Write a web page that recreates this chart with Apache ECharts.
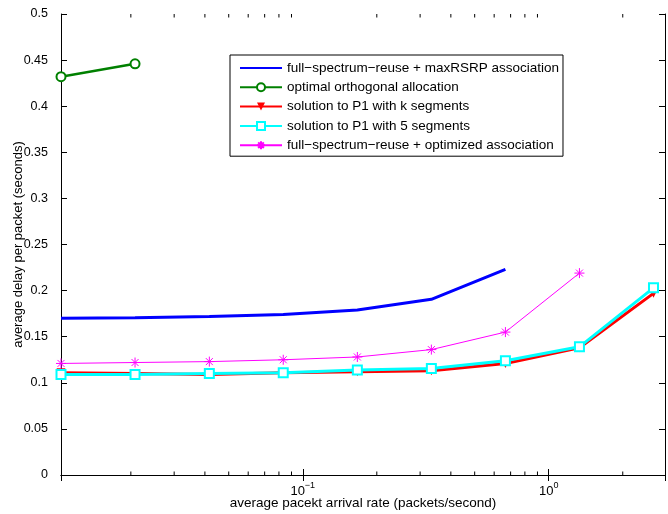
<!DOCTYPE html>
<html>
<head>
<meta charset="utf-8">
<script src="https://cdn.jsdelivr.net/npm/echarts@6/dist/echarts.min.js"></script>
<style>
html,body{margin:0;padding:0;background:#fff;}
#chart{width:668px;height:514px;}
</style>
</head>
<body>
<div id="chart"></div>
<script>
// arrival rates (packets/second), doubling each step
var rates = [0.0104, 0.0208, 0.0417, 0.0833, 0.1667, 0.3333, 0.6667, 1.3333, 2.6667];

var maxRsrp   = [0.170, 0.1705, 0.172, 0.174, 0.179, 0.1905, 0.223];
var orthogonal = [0.432, 0.446];
var kSegments = [0.111, 0.110, 0.109, 0.111, 0.112, 0.113, 0.121, 0.138, 0.197];
var fiveSegments = [0.109, 0.109, 0.110, 0.111, 0.114, 0.1155, 0.124, 0.139, 0.203];
var optimizedAssoc = [0.121, 0.122, 0.123, 0.125, 0.128, 0.136, 0.155, 0.219];

var seriesNames = [
    'full\u2212spectrum\u2212reuse + maxRSRP association',
    'optimal orthogonal allocation',
    'solution to P1 with k segments',
    'solution to P1 with 5 segments',
    'full\u2212spectrum\u2212reuse + optimized association'
];

// minor ticks for the log axis (2..9 per decade)
var minorTicks = [0.02, 0.03, 0.04, 0.05, 0.06, 0.07, 0.08, 0.09,
                  0.2, 0.3, 0.4, 0.5, 0.6, 0.7, 0.8, 0.9, 2];

var xMin = 0.0104, xMax = 2.97;

function pairs(ys){
    return ys.map(function(y, i){ return [rates[i], y]; });
}

var fontFam = '"Liberation Sans", Arial, Helvetica, sans-serif';
var asterisk = 'path://M5,0L5,10M0,5L10,5M1.5,1.5L8.5,8.5M1.5,8.5L8.5,1.5';

var legendData = seriesNames.map(function(n, i){
    // the blue line has no marker, hide the legend symbol
    return i === 0 ? {name: n, itemStyle: {opacity: 0}} : {name: n};
});

var chart = echarts.init(document.getElementById('chart'));
var option = {
    animation: false,
    textStyle: {fontFamily: fontFam},
    grid: {left: 61, top: 14, right: 3, bottom: 39, containLabel: false, outerBoundsMode: 'none'},
    legend: {
        orient: 'vertical',
        left: 230,
        top: 55,
        padding: [6, 4, 4, 9],
        itemGap: 5.3,
        itemWidth: 42,
        itemHeight: 10,
        borderColor: '#000',
        borderWidth: 1,
        backgroundColor: '#fff',
        textStyle: {fontSize: 13.5, color: '#000', fontFamily: fontFam},
        data: legendData
    },
    xAxis: [{
        type: 'log',
        logBase: 10,
        min: xMin,
        max: xMax,
        name: 'average pacekt arrival rate (packets/second)',
        nameLocation: 'middle',
        nameGap: 21,
        nameMoveOverlap: false,
        nameTextStyle: {fontSize: 13.5, color: '#000'},
        axisLine: {lineStyle: {color: '#000', width: 1}},
        axisTick: {inside: true, length: 6, lineStyle: {color: '#000'}},
        splitLine: {show: false},
        axisLabel: {
            color: '#000',
            fontSize: 13,
            margin: 6,
            showMinLabel: false,
            showMaxLabel: false,
            formatter: function(v){
                var e = Math.log10(v);
                if (Math.abs(e - Math.round(e)) > 1e-6) return '';
                var r = Math.round(e);
                return '10{sup|' + (r < 0 ? '\u2212' + (-r) : r) + '}';
            },
            rich: {sup: {fontSize: 9, padding: [0, 0, 12, 0], color: '#000'}}
        }
    }, {
        type: 'log',
        logBase: 10,
        min: xMin,
        max: xMax,
        position: 'top',
        axisLine: {lineStyle: {color: '#000', width: 1}},
        axisTick: {inside: true, length: 6, lineStyle: {color: '#000'}},
        axisLabel: {show: false},
        splitLine: {show: false}
    }],
    yAxis: [{
        type: 'value',
        min: 0,
        max: 0.5,
        interval: 0.05,
        name: 'average delay per packet (seconds)',
        nameLocation: 'middle',
        nameGap: 36,
        nameMoveOverlap: false,
        nameTextStyle: {fontSize: 13, color: '#000'},
        axisLine: {show: true, lineStyle: {color: '#000', width: 1}},
        axisTick: {show: true, inside: true, length: 6, lineStyle: {color: '#000'}},
        splitLine: {show: false},
        axisLabel: {
            color: '#000', fontSize: 12.5, margin: 13,
            formatter: function(v){ return String(Math.round(v * 100) / 100); }
        }
    }, {
        type: 'value',
        min: 0,
        max: 0.5,
        interval: 0.05,
        position: 'right',
        axisLine: {show: true, lineStyle: {color: '#000', width: 1}},
        axisTick: {show: true, inside: true, length: 6, lineStyle: {color: '#000'}},
        axisLabel: {show: false},
        splitLine: {show: false}
    }],
    series: [
        {
            name: seriesNames[0],
            type: 'line',
            data: pairs(maxRsrp),
            symbol: 'none',
            lineStyle: {color: '#0000ff', width: 3},
            itemStyle: {color: 'rgba(0,0,255,0)', borderWidth: 0}
        },
        {
            name: seriesNames[1],
            type: 'line',
            data: pairs(orthogonal),
            symbol: 'emptyCircle',
            symbolSize: 9,
            lineStyle: {color: '#008000', width: 2.5},
            itemStyle: {color: '#008000', borderWidth: 2.5}
        },
        {
            name: seriesNames[2],
            type: 'line',
            data: pairs(kSegments),
            symbol: 'triangle',
            symbolRotate: 180,
            symbolSize: 9,
            lineStyle: {color: '#ff0000', width: 3},
            itemStyle: {color: '#ff0000'}
        },
        {
            name: seriesNames[3],
            type: 'line',
            data: pairs(fiveSegments),
            symbol: 'emptyRect',
            symbolSize: 9,
            lineStyle: {color: '#00ffff', width: 3},
            itemStyle: {color: '#00ffff', borderWidth: 2.5}
        },
        {
            name: seriesNames[4],
            type: 'line',
            data: pairs(optimizedAssoc),
            symbol: asterisk,
            symbolSize: 10,
            lineStyle: {color: '#ff00ff', width: 1},
            itemStyle: {color: '#ff00ff', borderColor: '#ff00ff', borderWidth: 1}
        },
        {
            type: 'custom',
            silent: true,
            clip: false,
            data: minorTicks.map(function(v){ return [v]; }),
            encode: {x: 0},
            renderItem: function(params, api){
                var x = api.value(0);
                var b = api.coord([x, 0]);
                var t = api.coord([x, 0.5]);
                var st = {stroke: '#000', lineWidth: 1};
                return {
                    type: 'group',
                    children: [
                        {type: 'line', shape: {x1: b[0], y1: b[1], x2: b[0], y2: b[1] - 3.5}, style: st},
                        {type: 'line', shape: {x1: t[0], y1: t[1], x2: t[0], y2: t[1] + 3.5}, style: st}
                    ]
                };
            }
        }
    ]
};
chart.setOption(option);
</script>
</body>
</html>
